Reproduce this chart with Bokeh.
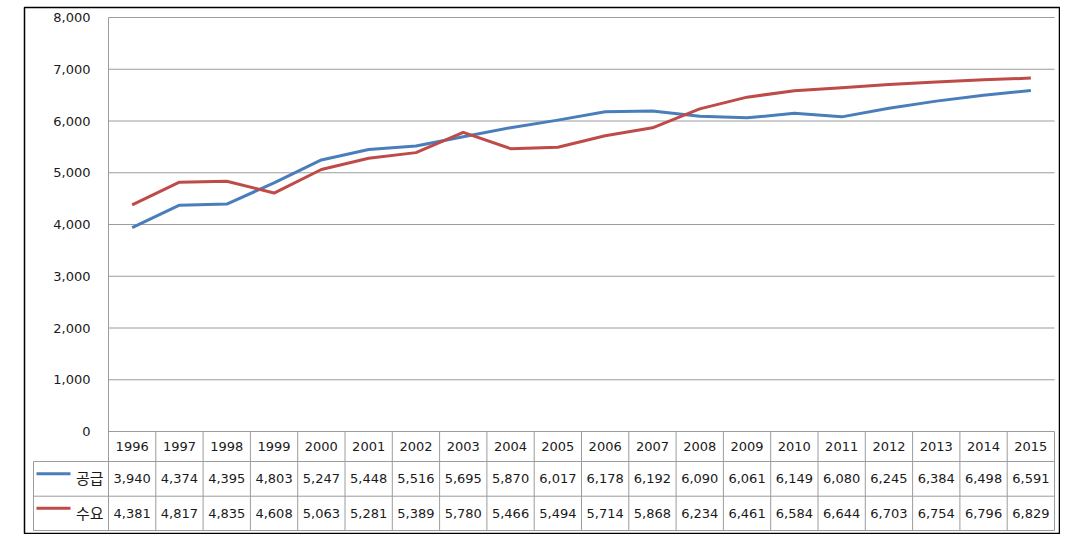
from bokeh.plotting import figure
from bokeh.models import Range1d
from bokeh.core.properties import value
from bokeh.embed import file_html
from bokeh.resources import INLINE

# ---- data ----
years = ["1996", "1997", "1998", "1999", "2000", "2001", "2002", "2003", "2004", "2005",
         "2006", "2007", "2008", "2009", "2010", "2011", "2012", "2013", "2014", "2015"]
supply = [3940, 4374, 4395, 4803, 5247, 5448, 5516, 5695, 5870, 6017,
          6178, 6192, 6090, 6061, 6149, 6080, 6245, 6384, 6498, 6591]
demand = [4381, 4817, 4835, 4608, 5063, 5281, 5389, 5780, 5466, 5494,
          5714, 5868, 6234, 6461, 6584, 6644, 6703, 6754, 6796, 6829]
series_names = ["공급", "수요"]
series_colors = ["#4A7EBB", "#BE4B48"]
y_ticks = [0, 1000, 2000, 3000, 4000, 5000, 6000, 7000, 8000]
y_tick_labels = ["0", "1,000", "2,000", "3,000", "4,000", "5,000", "6,000", "7,000", "8,000"]

# ---- layout helpers (pixel geometry) ----
COL_W = 47.3                 # px per year column
PX = 8000 / 414.0            # value units per vertical pixel
n = len(years)
idx = list(range(n))
LEFT = -0.5
RIGHT = n - 0.5
LEG_LEFT = LEFT - 75 / COL_W
ROW_EDGES = [0, -30 * PX, -64.7 * PX, -99 * PX]
GRID = "#9c9c9c"
TXT = "#1a1a1a"

p = figure(width=1060, height=534, output_backend="svg", toolbar_location=None,
           x_range=Range1d(LEFT - 84 / COL_W, RIGHT + 6 / COL_W),
           y_range=Range1d(-103 * PX, 424 * PX),
           min_border_left=24, min_border_right=0, min_border_top=7, min_border_bottom=0)
p.axis.visible = False
p.grid.visible = False
p.outline_line_color = "black"
p.outline_line_width = 1.5
p.background_fill_color = "white"
p.border_fill_color = "white"

# horizontal gridlines
gy = [t for t in y_ticks if t > 0]
p.segment(x0=[LEFT] * len(gy), y0=gy, x1=[RIGHT] * len(gy), y1=gy,
          line_color=GRID, line_width=1)
# plot-area left edge (axis line) down through table
p.segment(x0=[LEFT], y0=[y_ticks[-1]], x1=[LEFT], y1=[ROW_EDGES[-1]],
          line_color=GRID, line_width=1)

# y tick labels
p.text(x=[LEFT] * len(y_ticks), y=y_ticks, text=y_tick_labels,
       x_offset=-18, text_align="right", text_baseline="middle",
       text_font=value("DejaVu Sans"), text_font_size="13px", text_color=TXT)

# series lines
for vals, col in zip([supply, demand], series_colors):
    p.line(x=idx, y=vals, line_color=col, line_width=3, line_join="round")

# ---- data table ----
p.segment(x0=[LEFT], y0=[ROW_EDGES[0]], x1=[RIGHT], y1=[ROW_EDGES[0]],
          line_color=GRID, line_width=1)
p.segment(x0=[LEG_LEFT] * 3, y0=ROW_EDGES[1:], x1=[RIGHT] * 3, y1=ROW_EDGES[1:],
          line_color=GRID, line_width=1)
vx = [i + 0.5 for i in range(n)]
p.segment(x0=vx, y0=[ROW_EDGES[0]] * n, x1=vx, y1=[ROW_EDGES[-1]] * n,
          line_color=GRID, line_width=1)
p.segment(x0=[LEG_LEFT], y0=[ROW_EDGES[1]], x1=[LEG_LEFT], y1=[ROW_EDGES[-1]],
          line_color=GRID, line_width=1)

# header row: years
hy = (ROW_EDGES[0] + ROW_EDGES[1]) / 2
p.text(x=idx, y=[hy] * n, text=years, text_align="center", text_baseline="middle",
       text_font=value("DejaVu Sans"), text_font_size="13px", text_color=TXT)

# value rows
for r, (vals, name, col) in enumerate(zip([supply, demand], series_names, series_colors)):
    cy = (ROW_EDGES[r + 1] + ROW_EDGES[r + 2]) / 2
    p.text(x=idx, y=[cy] * n, text=[f"{v:,}" for v in vals],
           text_align="center", text_baseline="middle",
           text_font=value("DejaVu Sans"), text_font_size="13px", text_color=TXT)
    p.text(x=[LEFT], y=[cy], text=[name], x_offset=-5, y_offset=-1,
           text_align="right", text_baseline="middle",
           text_font=value("Noto Sans CJK KR"), text_font_size="15px", text_color=TXT)
    ly = cy + 5 * PX
    p.segment(x0=[LEG_LEFT + 3 / COL_W], y0=[ly], x1=[LEG_LEFT + 37 / COL_W], y1=[ly],
              line_color=col, line_width=3)

open("out.html", "w").write(file_html(p, INLINE))
